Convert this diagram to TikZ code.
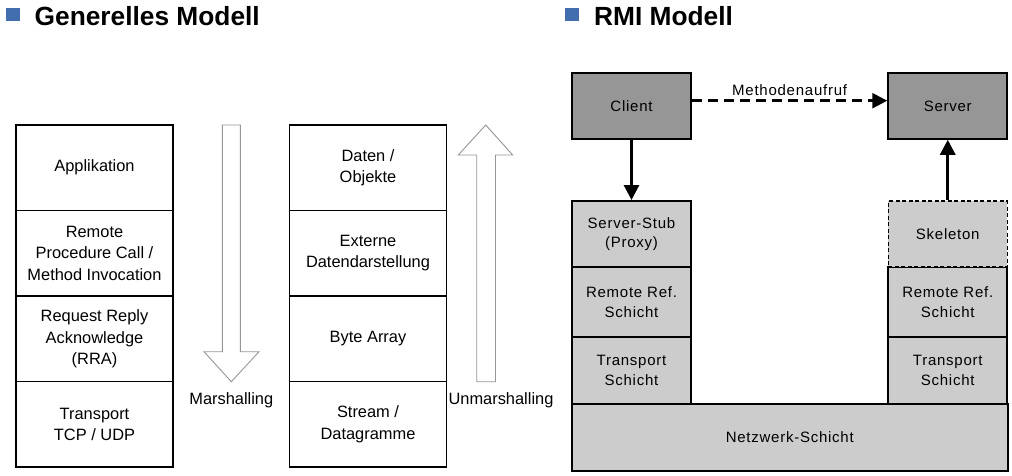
\documentclass[tikz,border=0pt]{standalone}
\usepackage{fontspec}
\setmainfont{Liberation Sans}
\newfontfamily\rmifont[LetterSpace=5]{Liberation Sans}
\usetikzlibrary{arrows.meta}
\definecolor{bulletblue}{RGB}{66,110,175}
\definecolor{darkfill}{RGB}{150,150,150}
\definecolor{lightfill}{RGB}{204,204,204}
\definecolor{hollowgray}{RGB}{150,150,150}
\begin{document}
\begin{tikzpicture}[x=1pt,y=-1pt,
  titletext/.style={anchor=base west, inner sep=0pt, font=\fontsize{26.3}{30}\selectfont\bfseries},
  bulletsq/.style={fill=bulletblue, minimum width=14pt, minimum height=13.5pt, inner sep=0pt},
  layer/.style={draw=black, line width=1.5pt, minimum width=157pt, minimum height=85.5pt, inner sep=0pt, align=center, font=\fontsize{16.4}{21.6}\selectfont},
  hollow/.style={draw=hollowgray, line width=0.9pt, fill=white},
  lbl/.style={inner sep=0pt, font=\fontsize{16.4}{21.6}\selectfont},
  rmibox/.style={draw=black, line width=2pt, inner sep=0pt, align=center, font=\rmifont\fontsize{15}{19.5}\selectfont},
  topbox/.style={rmibox, fill=darkfill, minimum width=119pt, minimum height=65.5pt},
  stackbox/.style={rmibox, fill=lightfill, minimum width=119pt},
  solidarrow/.style={line width=3pt, -{Triangle[length=15pt,width=15pt]}},
  dasharrow/.style={line width=2.5pt, dash pattern=on 10pt off 6pt, -{Triangle[length=15pt,width=15pt]}},
  rmilabel/.style={inner sep=0pt, font=\rmifont\fontsize{15}{19.5}\selectfont}
]
\useasboundingbox (0,0) rectangle (1012,475);

% titles
\node[bulletsq] (b1) at (13,14.5) {};
\node[titletext] (t1) at (34.5,25) {Generelles Modell};
\node[bulletsq] (b2) at (572,14.5) {};
\node[titletext] (t2) at (594,25) {RMI Modell};

% general model, left stack
\node[layer] (app) at (94.5,167.75) {Applikation};
\node[layer] (rpc) at (94.5,253.25) {Remote\\Procedure Call /\\Method Invocation};
\node[layer] (rra) at (94.5,338.75) {Request Reply\\Acknowledge\\(RRA)};
\node[layer] (tcp) at (94.5,424.25) {Transport\\TCP / UDP};

% middle stack
\node[layer] (dat) at (368,167.75) {Daten /\\Objekte};
\node[layer] (ext) at (368,253.25) {Externe\\Datendarstellung};
\node[layer] (byte) at (368,338.75) {Byte Array};
\node[layer] (stream) at (368,424.25) {Stream /\\Datagramme};

% hollow arrows
\draw[hollow] (222.3,125) -- (240.3,125) -- (240.3,351.7) -- (259,351.7) -- (231.3,381.7) -- (204,351.7) -- (222.3,351.7) -- cycle;
\draw[hollow] (485.7,125) -- (512.7,155) -- (495.5,155) -- (495.5,381.7) -- (476.7,381.7) -- (476.7,155) -- (458.3,155) -- cycle;
\node[lbl] (marsh) at (231.3,400.5) {Marshalling};
\node[lbl] (unmarsh) at (501,400.5) {Unmarshalling};

% RMI model
\node[stackbox, minimum width=435.5pt, minimum height=67.5pt] (netz) at (789.75,437.25) {Netzwerk-Schicht};
\node[stackbox, minimum height=66.5pt] (trl) at (631.5,370.25) {Transport\\Schicht};
\node[stackbox, minimum height=66.5pt] (trr) at (947.75,370.25) {Transport\\Schicht};
\node[stackbox, minimum height=70pt] (rrl) at (631.5,302) {Remote Ref.\\Schicht};
\node[stackbox, minimum height=70pt] (rrr) at (947.75,302) {Remote Ref.\\Schicht};
\node[stackbox, minimum height=66pt] (stub) at (631.5,234) {Server-Stub\\(Proxy)};
\node[stackbox, minimum height=66pt, line width=1.5pt, dash pattern=on 4pt off 2.5pt] (skel) at (947.75,234) {Skeleton};
\node[topbox] (client) at (631.5,106) {Client};
\node[topbox] (server) at (947.75,106) {Server};

\draw[solidarrow] (client) -- (stub);
\draw[solidarrow] (skel) -- (server);
\draw[dasharrow] ([yshift=5.3pt]client.east) -- ([yshift=5.3pt]server.west)
  node[rmilabel, midway, above=3.5pt] (call) {Methodenaufruf};
\end{tikzpicture}
\end{document}
